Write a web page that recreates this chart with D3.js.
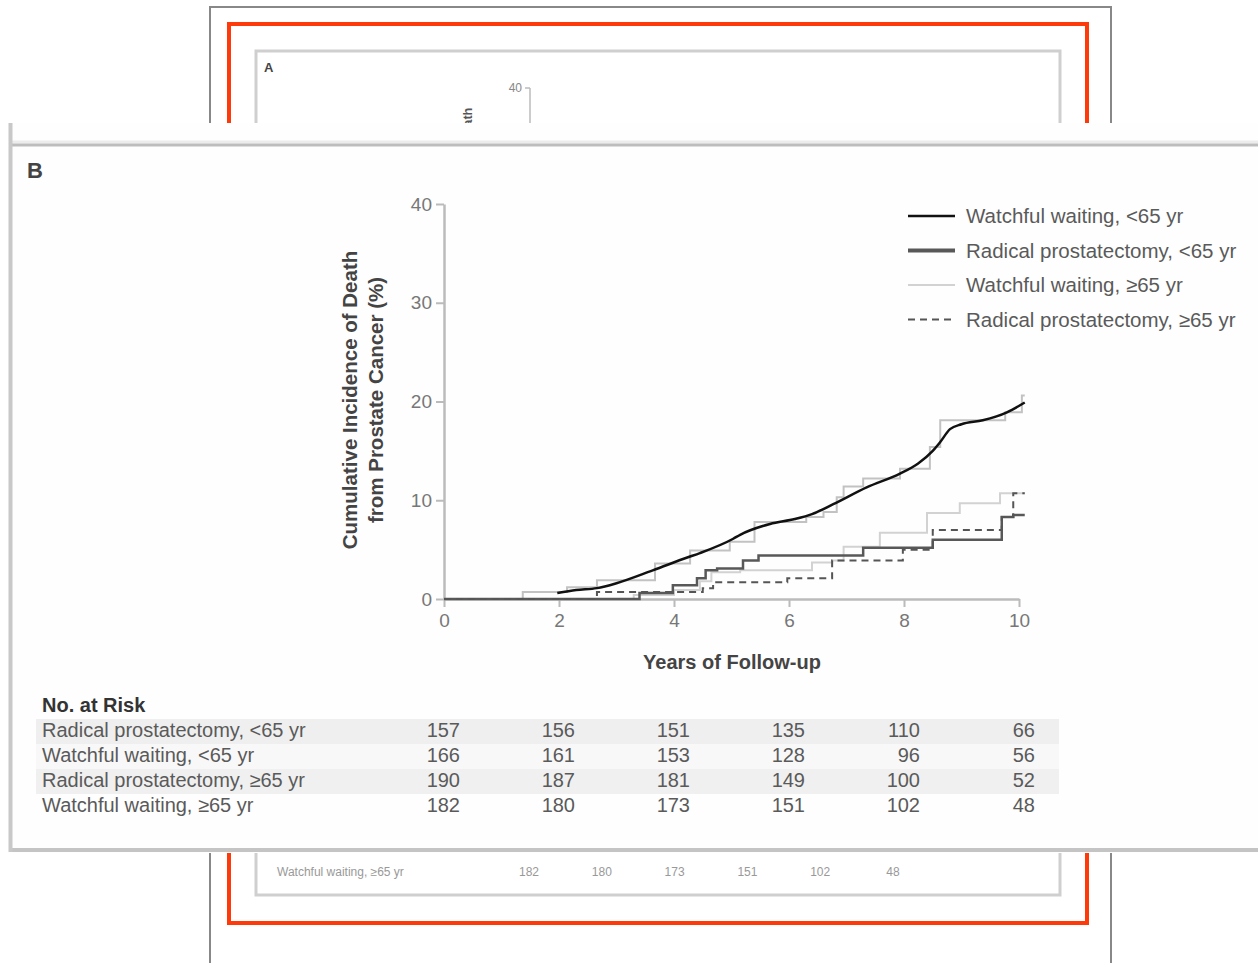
<!DOCTYPE html>
<html>
<head>
<meta charset="utf-8">
<script src="https://cdn.jsdelivr.net/npm/d3@7"></script>
<style>
  body { margin: 0; background: #fff; }
  svg { display: block; font-family: "Liberation Sans", Arial, sans-serif; }
</style>
</head>
<body>
<div id="chart"></div>
<script>
var width = 1258, height = 963;

// ---- data ----
var xTicks = [0, 2, 4, 6, 8, 10];
var yTicks = [0, 10, 20, 30, 40];

var groups = ["Radical prostatectomy, <65 yr", "Watchful waiting, <65 yr",
              "Radical prostatectomy, \u226565 yr", "Watchful waiting, \u226565 yr"];
var atRisk = [
  [157, 156, 151, 135, 110, 66],
  [166, 161, 153, 128, 96, 56],
  [190, 187, 181, 149, 100, 52],
  [182, 180, 173, 151, 102, 48]
];

// [years, cumulative incidence %]
var wwYoungCurve = [[1.97,0.6],[2.3,0.9],[2.66,1.1],[3.0,1.6],[3.63,2.9],[4.23,4.2],[4.45,4.65],
  [5.03,6.1],[5.15,6.5],[5.67,7.6],[6.1,8.1],[6.4,8.6],[6.77,9.6],[7.35,11.3],[7.93,12.7],[8.24,13.7],
  [8.5,15.0],[8.63,15.9],[8.8,17.2],[9.0,17.7],[9.37,18.1],[9.79,18.9],[10.1,19.9]];
var wwYoungSteps = [[0,0],[1.37,0.7],[2.14,1.2],[2.66,1.9],[3.67,3.6],[4.28,4.9],[4.97,5.8],
  [5.4,7.8],[6.3,8.3],[6.6,8.8],[6.83,10.3],[6.95,11.4],[7.29,12.2],[7.93,13.2],[8.45,15.4],
  [8.63,18.1],[9.76,18.9],[10.05,20.6],[10.1,20.6]];
var rpYoung = [[0,0],[3.4,0.6],[3.98,1.4],[4.4,2.1],[4.55,2.9],[4.75,3.1],[5.2,3.9],[5.47,4.4],
  [7.29,5.2],[8.5,6.0],[9.7,8.3],[9.9,8.5],[10.1,8.5]];
var wwOld = [[0,0],[3.3,0.4],[4.0,0.9],[4.45,1.8],[4.65,2.7],[5.15,2.9],[6.4,3.7],[6.75,3.9],
  [6.95,5.3],[7.58,6.7],[8.4,8.7],[8.97,9.7],[9.67,10.7],[10.1,10.7]];
var rpOld = [[0,0],[2.66,0.7],[4.2,0.7],[4.5,1.1],[4.68,1.7],[5.97,2.1],[6.75,3.9],[7.98,5.0],
  [8.5,7.0],[9.7,8.3],[9.9,10.7],[10.1,10.7]];

var legendNames = ["Watchful waiting, <65 yr", "Radical prostatectomy, <65 yr",
                   "Watchful waiting, \u226565 yr", "Radical prostatectomy, \u226565 yr"];

var svg = d3.select('#chart')
  .append('svg')
  .attr('width', width)
  .attr('height', height);

// ---- panel A in the background (mostly covered) ----
svg.append("rect").attr("x", 210).attr("y", 7).attr("width", 901).attr("height", 980)
  .attr("fill", "#fff").style("stroke", "#888").style("stroke-width", 2);
svg.append("rect").attr("x", 229).attr("y", 24).attr("width", 858).attr("height", 899)
  .attr("fill", "none").style("stroke", "#ff3a0a").style("stroke-width", 4);
svg.append("rect").attr("x", 256).attr("y", 51).attr("width", 804).attr("height", 844)
  .attr("fill", "none").style("stroke", "#cfcfcf").style("stroke-width", 3);
svg.append("text").attr("x", 264).attr("y", 72).text("A")
  .style("font-size", "13px").style("font-weight", "bold").attr("fill", "#444");
svg.append("line").attr("x1", 530).attr("x2", 530).attr("y1", 88).attr("y2", 130)
  .style("stroke", "#bbb").style("stroke-width", 1.5);
svg.append("line").attr("x1", 525).attr("x2", 530).attr("y1", 88).attr("y2", 88)
  .style("stroke", "#bbb").style("stroke-width", 1.5);
svg.append("text").attr("x", 522).attr("y", 92).attr("text-anchor", "end").text("40")
  .style("font-size", "12px").attr("fill", "#888");
svg.append("text").attr("transform", "translate(472,200) rotate(-90)").attr("text-anchor", "middle")
  .text("Cumulative Incidence of Death").style("font-size", "12.7px").style("font-weight", "bold").attr("fill", "#555");
svg.append("text").attr("transform", "translate(489,200) rotate(-90)").attr("text-anchor", "middle")
  .text("from Prostate Cancer (%)").style("font-size", "12.7px").style("font-weight", "bold").attr("fill", "#555");
var xA = d3.scaleLinear().domain([0, 10]).range([529, 893]);
svg.append("text").attr("x", 277).attr("y", 876).text(groups[3])
  .style("font-size", "12px").attr("fill", "#999");
svg.selectAll(".a-risk").data(atRisk[3]).enter().append("text")
  .attr("x", function(d, i) { return xA(xTicks[i]); }).attr("y", 876)
  .attr("text-anchor", "middle").text(function(d) { return d; })
  .style("font-size", "12px").attr("fill", "#999");

// ---- panel B on top ----
svg.append("rect").attr("x", 8).attr("y", 123).attr("width", 1270).attr("height", 730)
  .attr("fill", "#fefefe");
svg.append("line").attr("x1", 12).attr("x2", 1258).attr("y1", 142).attr("y2", 142)
  .style("stroke", "#ececec").style("stroke-width", 3);
svg.append("line").attr("x1", 12).attr("x2", 1258).attr("y1", 145).attr("y2", 145)
  .style("stroke", "#bdbdbd").style("stroke-width", 3);
svg.append("line").attr("x1", 12).attr("x2", 1258).attr("y1", 850).attr("y2", 850)
  .style("stroke", "#c4c4c4").style("stroke-width", 4);
svg.append("line").attr("x1", 10.5).attr("x2", 10.5).attr("y1", 123).attr("y2", 852)
  .style("stroke", "#c8c8c8").style("stroke-width", 4);

svg.append("text").attr("x", 27).attr("y", 178).text("B")
  .style("font-size", "22px").style("font-weight", "bold").attr("fill", "#444");

var x = d3.scaleLinear().domain([0, 10]).range([444, 1019]);
var y = d3.scaleLinear().domain([0, 40]).range([599, 204]);

var yAxis = svg.append("g").attr("transform", "translate(444,0)")
  .call(d3.axisLeft(y).tickValues(yTicks).tickSize(8).tickSizeOuter(0).tickPadding(4));
var xAxis = svg.append("g").attr("transform", "translate(0,599)")
  .call(d3.axisBottom(x).tickValues(xTicks).tickSize(8).tickSizeOuter(0).tickPadding(7));
[yAxis, xAxis].forEach(function(ax) {
  ax.select(".domain").style("stroke", "#bbb").style("stroke-width", 2.5);
  ax.selectAll(".tick line").style("stroke", "#bbb").style("stroke-width", 2);
  ax.selectAll(".tick text").style("font-size", "19px").style("font-family", "Liberation Sans, Arial, sans-serif")
    .attr("fill", "#777");
});

svg.append("text").attr("x", 732).attr("y", 669).attr("text-anchor", "middle")
  .text("Years of Follow-up").style("font-size", "20px").style("font-weight", "bold").attr("fill", "#444");
svg.append("text").attr("transform", "translate(357,400) rotate(-90)").attr("text-anchor", "middle")
  .text("Cumulative Incidence of Death").style("font-size", "20.5px").style("font-weight", "bold").attr("fill", "#444");
svg.append("text").attr("transform", "translate(383,400) rotate(-90)").attr("text-anchor", "middle")
  .text("from Prostate Cancer (%)").style("font-size", "20.5px").style("font-weight", "bold").attr("fill", "#444");

var step = d3.line().x(function(d) { return x(d[0]); }).y(function(d) { return y(d[1]); })
  .curve(d3.curveStepAfter);
var smooth = d3.line().x(function(d) { return x(d[0]); }).y(function(d) { return y(d[1]); })
  .curve(d3.curveMonotoneX);

var styles = {
  wwOld:   {stroke: "#d2d2d2", width: 2, dash: null},
  wwSteps: {stroke: "#c2c2c2", width: 2, dash: null},
  rpYoung: {stroke: "#585858", width: 2.5, dash: null},
  rpOld:   {stroke: "#555", width: 2, dash: "7,5"},
  wwYoung: {stroke: "#111", width: 2.5, dash: null}
};
function drawPath(data, gen, st) {
  svg.append("path").attr("d", gen(data)).attr("fill", "none")
    .attr("stroke", st.stroke).attr("stroke-width", st.width)
    .attr("stroke-dasharray", st.dash);
}
drawPath(wwOld, step, styles.wwOld);
drawPath(wwYoungSteps, step, styles.wwSteps);
drawPath(rpYoung, step, styles.rpYoung);
drawPath(rpOld, step, styles.rpOld);
drawPath(wwYoungCurve, smooth, styles.wwYoung);

// legend
var legendStyles = [styles.wwYoung, {stroke: "#585858", width: 4, dash: null}, styles.wwOld, styles.rpOld];
var legend = svg.append("g").selectAll("g").data(legendNames).enter().append("g")
  .attr("transform", function(d, i) { return "translate(908," + (216 + i * 34.5) + ")"; });
legend.append("line").attr("x1", 0).attr("x2", 47).attr("y1", 0).attr("y2", 0)
  .attr("stroke", function(d, i) { return legendStyles[i].stroke; })
  .attr("stroke-width", function(d, i) { return legendStyles[i].width; })
  .attr("stroke-dasharray", function(d, i) { return legendStyles[i].dash; });
legend.append("text").attr("x", 58).attr("y", 7).text(function(d) { return d; })
  .style("font-size", "20.5px").attr("fill", "#5a5a5a");

// number at risk table
svg.append("text").attr("x", 42).attr("y", 712).text("No. at Risk")
  .style("font-size", "20px").style("font-weight", "bold").attr("fill", "#333");
var bandFill = ["#efefef", "#f8f8f8", "#f0f0f0", "#fefefe"];
var rows = svg.append("g").selectAll("g").data(groups).enter().append("g")
  .attr("transform", function(d, i) { return "translate(0," + (719 + i * 25) + ")"; });
rows.append("rect").attr("x", 36).attr("y", 0).attr("width", 1023).attr("height", 25)
  .attr("fill", function(d, i) { return bandFill[i]; });
rows.append("text").attr("x", 42).attr("y", 18).text(function(d) { return d; })
  .style("font-size", "20px").attr("fill", "#5a5a5a");
rows.each(function(d, i) {
  d3.select(this).selectAll(".n").data(atRisk[i]).enter().append("text")
    .attr("x", function(v, j) { return x(xTicks[j]) + 16; })
    .attr("y", 18).attr("text-anchor", "end")
    .text(function(v) { return v; })
    .style("font-size", "20px").attr("fill", "#5a5a5a");
});
</script>
</body>
</html>
